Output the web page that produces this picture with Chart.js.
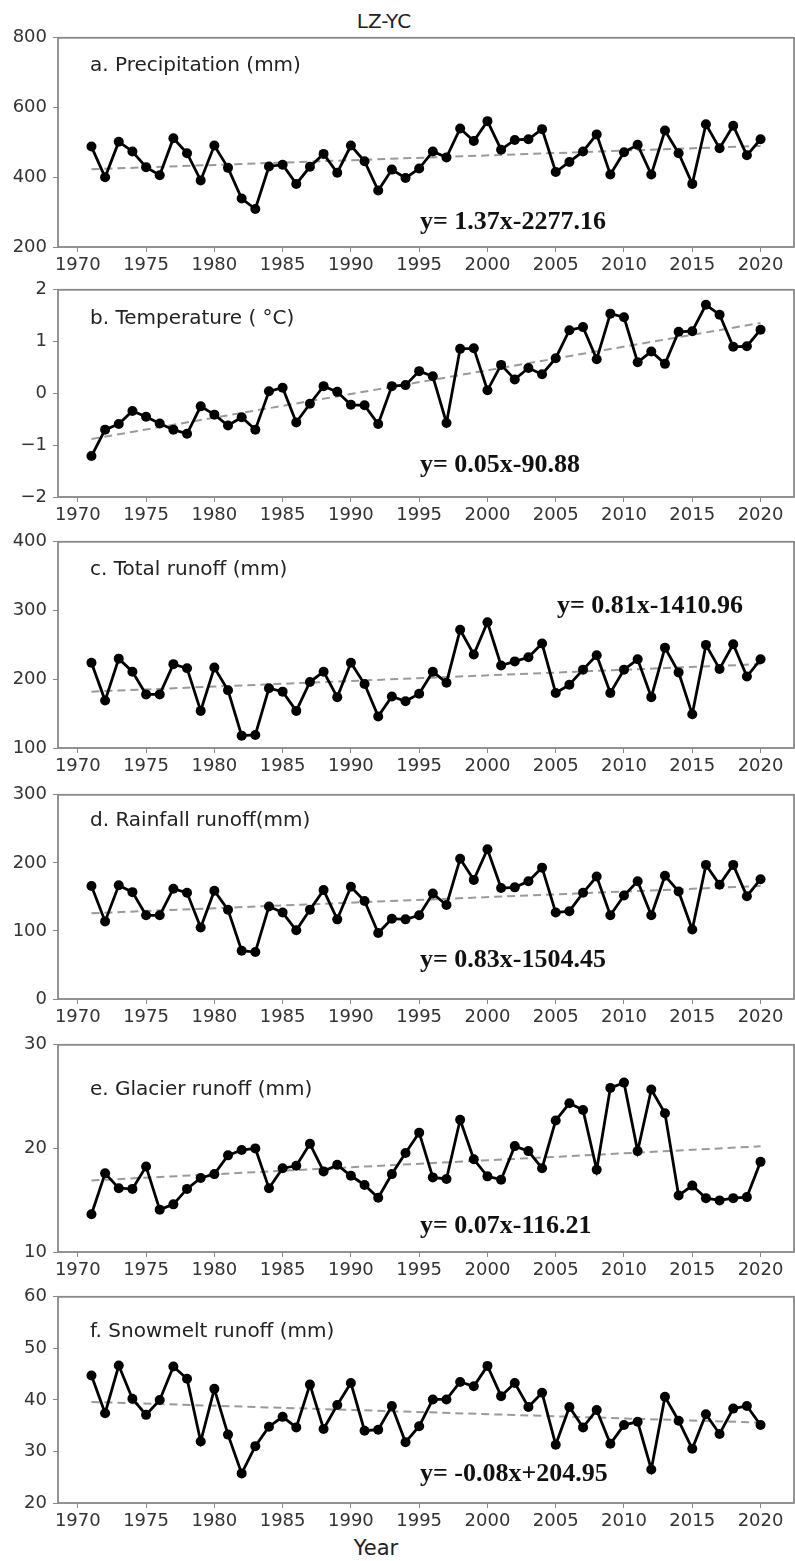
<!DOCTYPE html>
<html>
<head>
<meta charset="utf-8">
<script src="https://cdn.jsdelivr.net/npm/chart.js@4.4.0/dist/chart.umd.min.js"></script>
<style>
    body { margin: 0; background: #fff; }
    #wrap { position: relative; width: 795px; height: 1561px; font-family: "DejaVu Sans", sans-serif; color: #222; }
    #wrap canvas { position: absolute; left: 0; }
    .lbl { position: absolute; font-size: 20px; line-height: 20px; white-space: nowrap; transform: translate(-50%, -50%); }
</style>
</head>
<body>
<div id="wrap">
    <div class="lbl" style="left:384px; top:21px;">LZ-YC</div>
    <div class="lbl" style="left:376px; top:1548px; font-size:21px;">Year</div>
</div>
<script>
// ================= DATA =================
const years = [1971,1972,1973,1974,1975,1976,1977,1978,1979,1980,
               1981,1982,1983,1984,1985,1986,1987,1988,1989,1990,
               1991,1992,1993,1994,1995,1996,1997,1998,1999,2000,
               2001,2002,2003,2004,2005,2006,2007,2008,2009,2010,
               2011,2012,2013,2014,2015,2016,2017,2018,2019,2020];

const xTicks = [1970, 1975, 1980, 1985, 1990, 1995, 2000, 2005, 2010, 2015, 2020];

const precipitation = [488,400,502,474,429,406,512,469,391,491,
                       427,339,309,431,436,381,430,467,413,491,
                       446,362,422,398,425,474,457,540,504,561,
                       479,507,509,538,415,444,474,523,408,472,
                       493,408,534,469,381,552,483,548,463,509];

const temperature = [-1.21,-0.70,-0.59,-0.34,-0.45,-0.58,-0.70,-0.78,-0.25,-0.41,
                     -0.62,-0.46,-0.70,0.04,0.11,-0.56,-0.20,0.14,0.03,-0.22,
                     -0.23,-0.59,0.14,0.16,0.43,0.33,-0.57,0.86,0.87,0.06,
                     0.55,0.27,0.49,0.37,0.68,1.22,1.28,0.66,1.54,1.47,
                     0.60,0.81,0.57,1.19,1.20,1.71,1.52,0.90,0.91,1.23];

const totalRunoff = [224,169,230,211,178,178,222,216,154,217,
                     184,118,119,187,182,154,196,211,174,224,
                     193,146,175,168,179,211,195,272,236,283,
                     220,226,232,252,180,192,214,235,180,214,
                     229,174,246,210,149,250,215,251,204,229];

const rainfallRunoff = [166,114,167,157,123,123,162,156,105,159,
                        131,71,69,136,127,101,131,160,117,165,
                        144,97,118,117,123,155,138,206,175,220,
                        163,164,173,193,127,129,156,180,123,152,
                        173,123,181,158,102,197,168,197,151,176];

const glacierRunoff = [13.65,17.59,16.16,16.09,18.25,14.09,14.6,16.09,17.14,17.52,
                       19.33,19.84,20.0,16.16,18.09,18.32,20.44,17.78,18.41,17.36,
                       16.47,15.24,17.52,19.55,21.52,17.2,17.05,22.76,18.95,17.3,
                       16.98,20.22,19.74,18.09,22.7,24.35,23.71,17.94,25.84,26.35,
                       19.74,25.68,23.4,15.46,16.41,15.2,14.98,15.2,15.3,18.7];

const snowmeltRunoff = [44.75,37.42,46.67,40.22,37.1,39.97,46.47,44.11,31.93,42.14,
                        33.27,25.74,31.03,34.8,36.71,34.67,42.97,34.35,39.01,43.28,
                        34.03,34.22,38.82,31.8,34.9,40.09,40.09,43.48,42.65,46.6,
                        40.73,43.28,38.63,41.37,31.29,38.63,34.67,38.05,31.48,35.12,
                        35.76,26.5,40.6,35.95,30.52,37.22,33.4,38.31,38.82,35.12];

// trend line end values (1971, 2020)
const trendPrecip = [423, 490];
const trendTemp = [-0.88, 1.36];
const trendTotal = [182, 222];
const trendRain = [126, 166];
const trendGlacier = [16.9, 20.2];
const trendSnow = [39.6, 35.6];

// y tick labels
const yTicksPrecip = [200, 400, 600, 800];
const yTicksTemp = [-2, -1, 0, 1, 2];
const yTicksTotal = [100, 200, 300, 400];
const yTicksRain = [0, 100, 200, 300];
const yTicksGlacier = [10, 20, 30];
const yTicksSnow = [20, 30, 40, 50, 60];

// ================= PANELS =================
const panels = [
    { values: precipitation, trend: trendPrecip, yTicks: yTicksPrecip,
      label: "a. Precipitation (mm)", eq: "y= 1.37x-2277.16",
      top: 35, h: 212, labelDy: 28, eqX: 420, eqDy: 184 },
    { values: temperature, trend: trendTemp, yTicks: yTicksTemp,
      label: "b. Temperature ( \u00B0C)", eq: "y= 0.05x-90.88",
      top: 287, h: 210, labelDy: 29, eqX: 420, eqDy: 175 },
    { values: totalRunoff, trend: trendTotal, yTicks: yTicksTotal,
      label: "c. Total runoff (mm)", eq: "y= 0.81x-1410.96",
      top: 539, h: 209, labelDy: 28, eqX: 557, eqDy: 64 },
    { values: rainfallRunoff, trend: trendRain, yTicks: yTicksRain,
      label: "d. Rainfall runoff(mm)", eq: "y= 0.83x-1504.45",
      top: 792, h: 207, labelDy: 26, eqX: 420, eqDy: 165 },
    { values: glacierRunoff, trend: trendGlacier, yTicks: yTicksGlacier,
      label: "e. Glacier runoff (mm)", eq: "y= 0.07x-116.21",
      top: 1042, h: 210, labelDy: 45, eqX: 420, eqDy: 181 },
    { values: snowmeltRunoff, trend: trendSnow, yTicks: yTicksSnow,
      label: "f. Snowmelt runoff (mm)", eq: "y= -0.08x+204.95",
      top: 1294, h: 209, labelDy: 35, eqX: 420, eqDy: 177 }
];

const PAD_TOP = 14;
const AXIS_H = 32;
const AXIS_W = 58;
const SPINE = "#888";
const tickFont = { family: "DejaVu Sans", size: 18 };

// frame + panel texts
const framePlugin = {
    id: "frame",
    afterDraw(chart, args, opts) {
        const { ctx, chartArea: a } = chart;
        ctx.save();
        ctx.strokeStyle = SPINE;
        ctx.lineWidth = 1.8;
        ctx.strokeRect(a.left, a.top, a.right - a.left, a.bottom - a.top);
        ctx.textBaseline = "middle";
        ctx.fillStyle = "#222";
        ctx.font = '20px "DejaVu Sans"';
        ctx.fillText(opts.label, a.left + 32, a.top + opts.labelDy);
        ctx.fillStyle = "#111";
        ctx.font = 'bold 26px "Liberation Serif"';
        ctx.fillText(opts.eq, opts.eqX, a.top + opts.eqDy);
        ctx.restore();
    }
};

const wrap = document.getElementById("wrap");

panels.forEach(p => {
    const canvas = document.createElement("canvas");
    canvas.width = 795;
    canvas.height = PAD_TOP + p.h + AXIS_H;
    canvas.style.top = (p.top - PAD_TOP) + "px";
    wrap.appendChild(canvas);

    const yMin = p.yTicks[0];
    const yMax = p.yTicks[p.yTicks.length - 1];

    new Chart(canvas, {
        type: "line",
        data: {
            datasets: [
                {
                    data: years.map((yr, k) => ({ x: yr, y: p.values[k] })),
                    borderColor: "#000",
                    backgroundColor: "#000",
                    borderWidth: 2.8,
                    pointRadius: 5,
                    pointBorderWidth: 0,
                    pointBackgroundColor: "#000",
                    tension: 0,
                    order: 0
                },
                {
                    data: [
                        { x: years[0], y: p.trend[0] },
                        { x: years[years.length - 1], y: p.trend[1] }
                    ],
                    borderColor: "#9a9a9a",
                    borderWidth: 2,
                    borderDash: [8, 5],
                    pointRadius: 0,
                    order: 1
                }
            ]
        },
        options: {
            responsive: false,
            animation: false,
            layout: { autoPadding: false, padding: { top: PAD_TOP, right: 1, left: 0, bottom: 0 } },
            plugins: {
                legend: { display: false },
                tooltip: { enabled: false },
                frame: { label: p.label, eq: p.eq, labelDy: p.labelDy, eqX: p.eqX, eqDy: p.eqDy }
            },
            scales: {
                x: {
                    type: "linear",
                    min: 1968.55,
                    max: 2022.45,
                    afterFit: s => { s.height = AXIS_H; s.paddingLeft = 0; s.paddingRight = 0; },
                    afterBuildTicks: s => { s.ticks = xTicks.map(v => ({ value: v })); },
                    ticks: {
                        font: tickFont,
                        color: "#333",
                        padding: 3,
                        maxRotation: 0,
                        autoSkip: false,
                        callback: v => String(v)
                    },
                    grid: { drawOnChartArea: false, color: SPINE, tickLength: 5 },
                    border: { display: false }
                },
                y: {
                    min: yMin,
                    max: yMax,
                    afterFit: s => { s.width = AXIS_W; },
                    afterBuildTicks: s => { s.ticks = p.yTicks.map(v => ({ value: v })); },
                    ticks: {
                        font: tickFont,
                        color: "#333",
                        padding: 6,
                        callback: v => String(v).replace("-", "\u2212")
                    },
                    grid: { drawOnChartArea: false, color: SPINE, tickLength: 5 },
                    border: { display: false }
                }
            }
        },
        plugins: [framePlugin]
    });
});
</script>
</body>
</html>
